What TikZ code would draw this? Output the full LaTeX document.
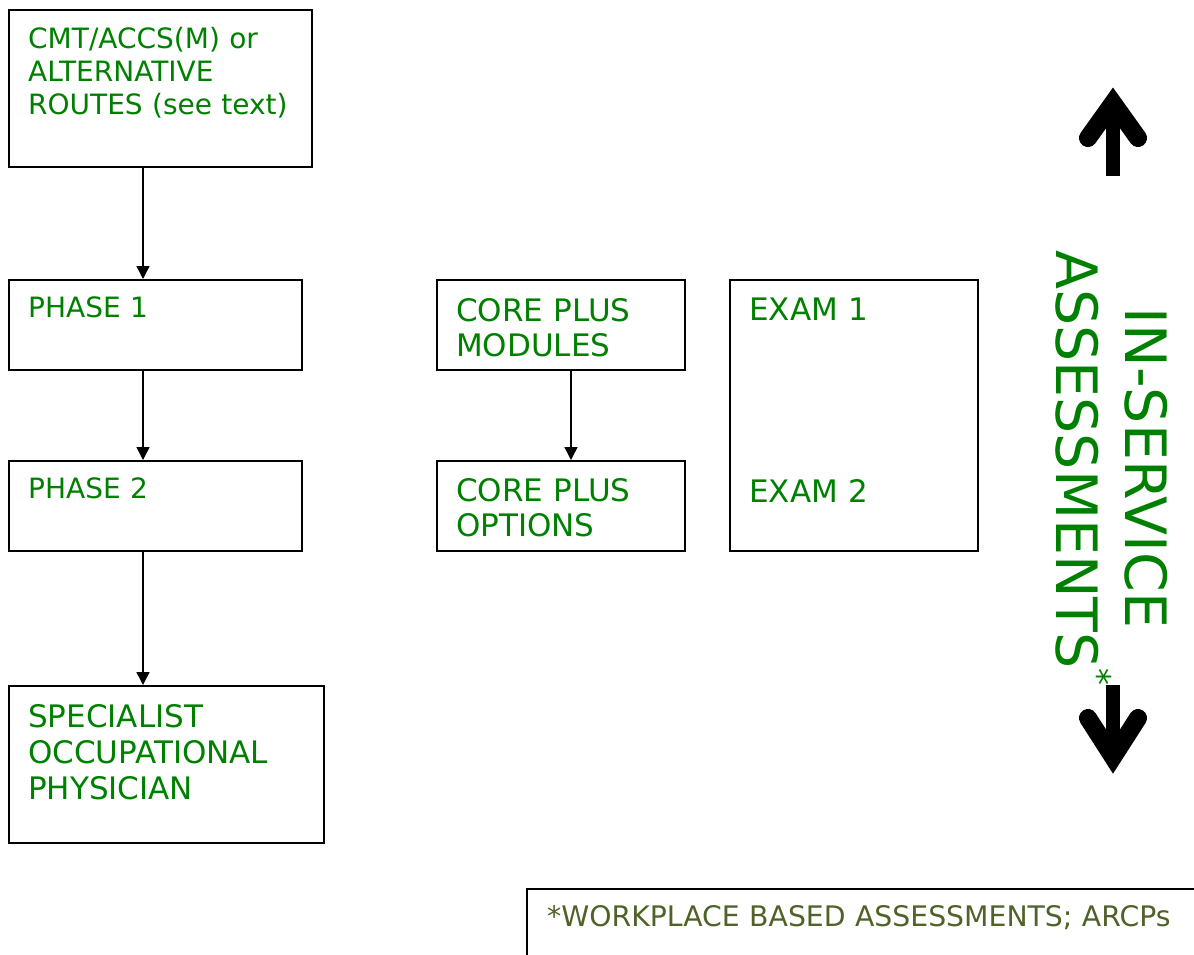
\documentclass[tikz,border=0pt]{standalone}
\usepackage{fontspec}
\setmainfont{DejaVu Sans}
\usetikzlibrary{arrows.meta}
\definecolor{boxgreen}{RGB}{0,128,0}
\definecolor{noteolive}{RGB}{79,98,40}
\tikzset{
  box/.style={draw, line width=1.5pt, anchor=north west, inner sep=0pt},
  txt/.style={anchor=base west, inner sep=0pt, align=left, text=boxgreen, text width=290pt},
  small/.style={font=\fontsize{28}{33}\selectfont},
  large/.style={font=\fontsize{31}{36}\selectfont},
  conn/.style={-{Triangle[width=13pt,length=13pt]}, line width=1.5pt},
  bigarrow/.style={line width=14pt},
  bighead/.style={line width=18pt, line cap=round, line join=miter},
}
\begin{document}
\begin{tikzpicture}[x=1pt,y=-1pt]
    \useasboundingbox (0,0) rectangle (1194,954);

    % left column
    \node[box, minimum width=303pt, minimum height=157pt] (cmt) at (8,9) {};
    \node[box, minimum width=293pt, minimum height=90pt] (phase1) at (8,279) {};
    \node[box, minimum width=293pt, minimum height=90pt] (phase2) at (8,460) {};
    \node[box, minimum width=315pt, minimum height=157pt] (specialist) at (8,685) {};

    \node[txt, small] (cmt-text) at (28,48) {CMT/ACCS(M) or\\ALTERNATIVE\\ROUTES (see text)};
    \node[txt, small] (phase1-text) at (28,317) {PHASE 1};
    \node[txt, small] (phase2-text) at (28,498) {PHASE 2};
    \node[txt, large] (specialist-text) at (28,727) {SPECIALIST\\OCCUPATIONAL\\PHYSICIAN};

    % middle columns
    \node[box, minimum width=248pt, minimum height=90pt] (modules) at (436,279) {};
    \node[box, minimum width=248pt, minimum height=90pt] (options) at (436,460) {};
    \node[box, minimum width=248pt, minimum height=271pt] (exams) at (729,279) {};

    \node[txt, large, font=\fontsize{31}{35}\selectfont] (modules-text) at (456,321) {CORE PLUS\\MODULES};
    \node[txt, large, font=\fontsize{31}{35}\selectfont] (options-text) at (456,501) {CORE PLUS\\OPTIONS};
    \node[txt, large] (exam1-text) at (749,320) {EXAM 1};
    \node[txt, large] (exam2-text) at (749,502) {EXAM 2};

    \draw[conn] ([xshift=135pt]cmt.south west) -- ([xshift=135pt]phase1.north west);
    \draw[conn] ([xshift=135pt]phase1.south west) -- ([xshift=135pt]phase2.north west);
    \draw[conn] ([xshift=135pt]phase2.south west) -- ([xshift=135pt]specialist.north west);
    \draw[conn] ([xshift=135pt]modules.south west) -- ([xshift=135pt]options.north west);

    % in-service assessments
    \node[rotate=-90, align=center, text=boxgreen, inner sep=0pt,
          font=\fontsize{57}{69}\selectfont] (inservice) at (1112,468)
          {IN-SERVICE\\ASSESSMENTS\raisebox{0.52em}{\fontsize{34}{34}\selectfont *}};

    \coordinate (uptail) at (1113,176);
    \coordinate (uphead) at (1113,103);
    \coordinate (upleft) at (1088,138);
    \coordinate (upright) at (1138,138);
    \draw[bigarrow] (uptail) -- (uphead);
    \draw[bighead] (upleft) -- (uphead) -- (upright);

    \coordinate (downtail) at (1113,685);
    \coordinate (downhead) at (1113,757);
    \coordinate (downleft) at (1088,718);
    \coordinate (downright) at (1138,718);
    \draw[bigarrow] (downtail) -- (downhead);
    \draw[bighead] (downleft) -- (downhead) -- (downright);

    % footnote
    \node[box, minimum width=700pt, minimum height=90pt] (note) at (526,888) {};
    \node[txt, text=noteolive, text width=640pt, font=\fontsize{28.3}{33}\selectfont] (note-text) at (547,926) {*WORKPLACE BASED ASSESSMENTS; ARCPs};

  \end{tikzpicture}
\end{document}
